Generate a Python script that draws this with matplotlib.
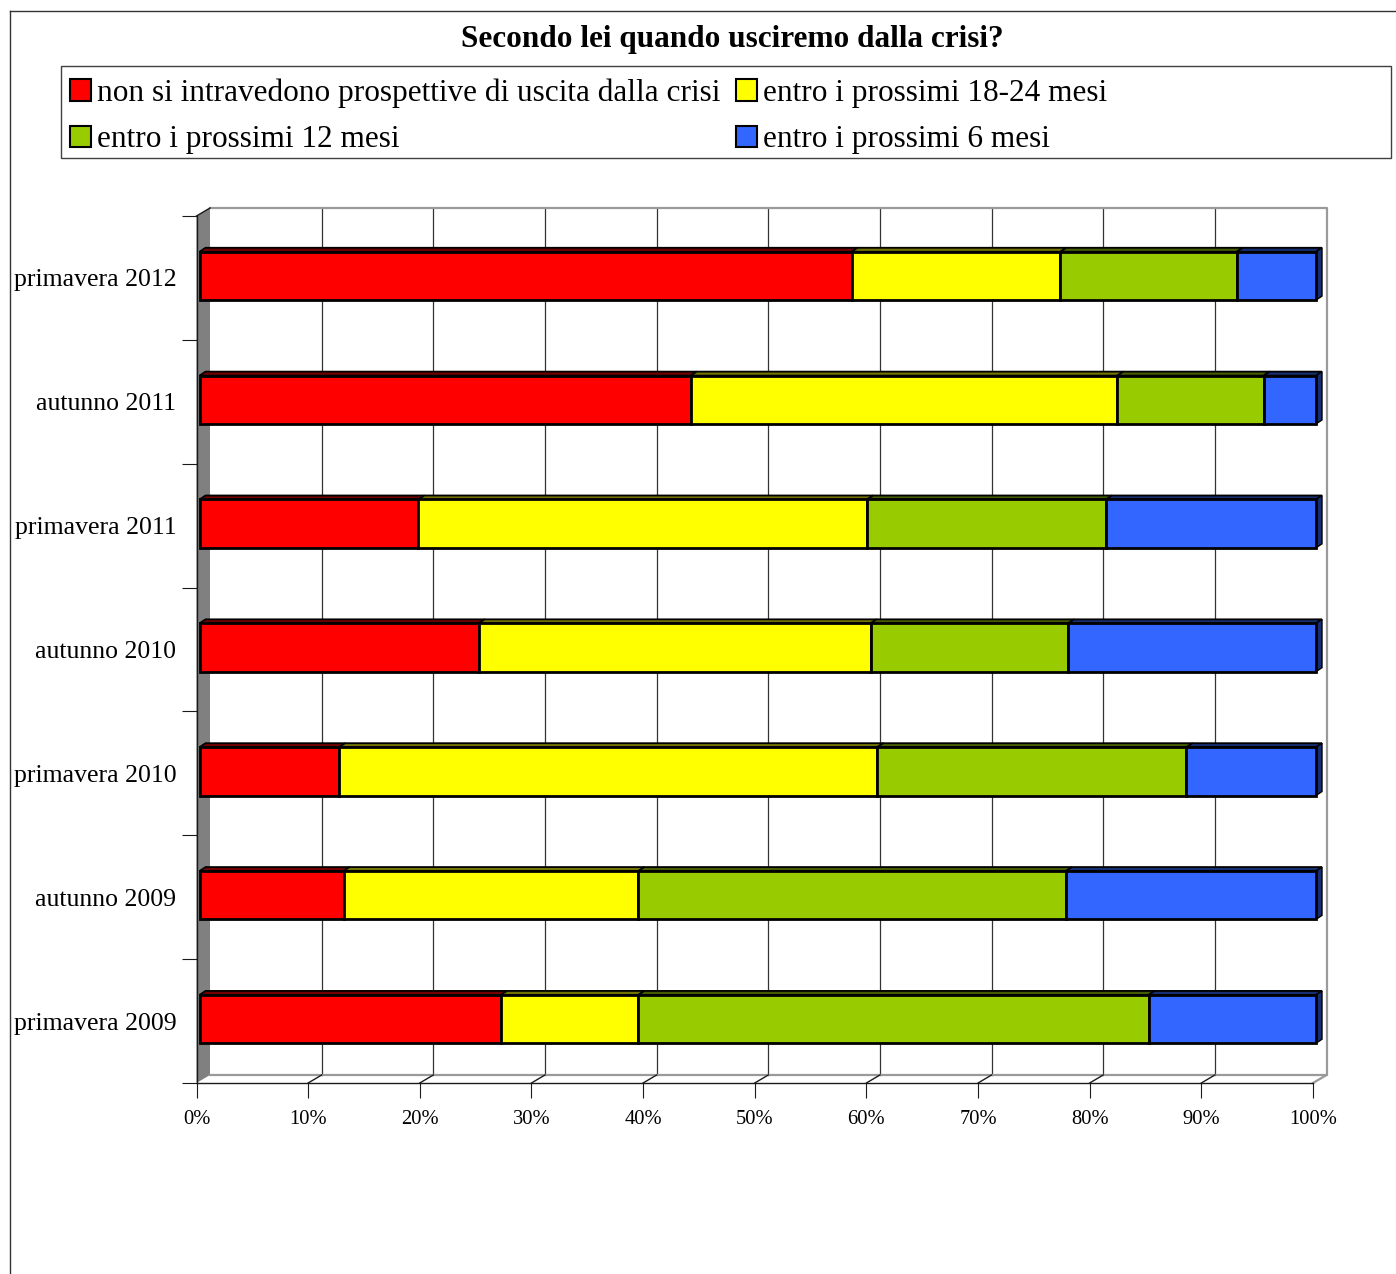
import matplotlib
matplotlib.use("Agg")
import matplotlib.pyplot as plt
from matplotlib.patches import Polygon, Rectangle, Patch
from matplotlib.lines import Line2D
from matplotlib.transforms import ScaledTranslation
from matplotlib.ticker import FixedLocator
import numpy as np

plt.rcParams["font.family"] = ["Liberation Serif", "DejaVu Serif"]

# ---- data (percent of respondents, stacked to 100%) ----
categories = ["primavera 2009", "autunno 2009", "primavera 2010", "autunno 2010",
              "primavera 2011", "autunno 2011", "primavera 2012"]
series_labels = ["non si intravedono prospettive di uscita dalla crisi",
                 "entro i prossimi 18-24 mesi",
                 "entro i prossimi 12 mesi",
                 "entro i prossimi 6 mesi"]
no_exit      = [27.0, 12.9, 12.5, 25.0, 19.6, 44.0, 58.4]
within_18_24 = [12.3, 26.4, 48.2, 35.1, 40.2, 38.2, 18.7]
within_12    = [45.7, 38.3, 27.7, 17.7, 21.4, 13.1, 15.8]
within_6     = [15.0, 22.4, 11.6, 22.2, 18.8, 4.7, 7.1]
series_colors = ["#FF0000", "#FFFF00", "#99CC00", "#3366FF"]
x_ticks = [0, 10, 20, 30, 40, 50, 60, 70, 80, 90, 100]
x_tick_labels = [f"{t}%" for t in x_ticks]
title = "Secondo lei quando usciremo dalla crisi?"

series = [no_exit, within_18_24, within_12, within_6]

W, H, DPI = 1396, 1274, 100
fig = plt.figure(figsize=(W / DPI, H / DPI), dpi=DPI)

# front plane of the pseudo-3D plot
x0, x1, ytop, ybot = 196.5, 1313.0, 216.0, 1083.0
ax = fig.add_axes([x0 / W, (H - ybot) / H, (x1 - x0) / W, (ybot - ytop) / H])
ncat = len(categories)
ax.set_xlim(0, 100)
ax.set_ylim(-0.5, ncat - 0.5)
ax.patch.set_visible(False)
for side in ("top", "right"):
    ax.spines[side].set_visible(False)
for side in ("left", "bottom"):
    ax.spines[side].set_color("#1a1a1a")
    ax.spines[side].set_linewidth(1.0)
    ax.spines[side].set_zorder(5)

sx = (x1 - x0) / 100.0          # pixels per percent
sy = (ybot - ytop) / ncat       # pixels per category


def shifted(dx, dy):
    """Data transform displaced by (dx, dy) pixels (dy up)."""
    return ax.transData + ScaledTranslation(dx / DPI, dy / DPI, fig.dpi_scale_trans)


# depth of the walls, in pixels
wall_dx, wall_dy = 13.5, 8.0
wdx, wdy = wall_dx / sx, wall_dy / sy
y_lo, y_hi = -0.5, ncat - 0.5

# left side wall
ax.add_patch(Polygon([(0, y_lo), (wdx, y_lo + wdy), (wdx, y_hi + wdy), (0, y_hi)],
                     closed=True, facecolor="#808080", edgecolor="none",
                     clip_on=False, zorder=1))
ax.plot([0, wdx], [y_hi, y_hi + wdy], color="#1a1a1a", lw=1.0, clip_on=False, zorder=2)

# back wall grid and frame
back = shifted(wall_dx, wall_dy)
for t in x_ticks[1:-1]:
    ax.plot([t, t], [y_lo, y_hi], transform=back, color="#333333", lw=0.9,
            clip_on=False, zorder=1)
ax.plot([0, 100, 100, 0], [y_hi, y_hi, y_lo, y_lo], transform=back,
        color="#9a9a9a", lw=1.6, clip_on=False, zorder=1)

# floor edges
for t in x_ticks[1:]:
    col = "#9a9a9a" if t == 100 else "#1a1a1a"
    ax.plot([t, t + wdx], [y_lo, y_lo + wdy], color=col, lw=1.0 if t < 100 else 1.6,
            clip_on=False, zorder=1)

# stacked bars with a shallow 3D top and end face
bar_dx, bar_dy = 3.0, 2.0
depth_dx, depth_dy = 6.0, 4.0
ddx, ddy = depth_dx / sx, depth_dy / sy
bar_h = 0.39
ypos = np.arange(ncat)
front = shifted(bar_dx, bar_dy)
lefts = np.zeros(ncat)
for vals, col in zip(series, series_colors):
    vals = np.asarray(vals, dtype=float)
    rgb = np.array(matplotlib.colors.to_rgb(col))
    dark = tuple(rgb * 0.45)
    for yi, l, w in zip(ypos, lefts, vals):
        top = yi + bar_h / 2
        ax.add_patch(Polygon([(l, top), (l + w, top), (l + w + ddx, top + ddy), (l + ddx, top + ddy)],
                             closed=True, facecolor=dark, edgecolor="black", lw=1.3,
                             transform=front, clip_on=False, zorder=3))
    ax.barh(ypos, vals, left=lefts, height=bar_h, color=col, edgecolor="black",
            linewidth=2.0, transform=front, clip_on=False, zorder=4)
    lefts = lefts + vals

# visible end face of the last segment
rgb_last = np.array(matplotlib.colors.to_rgb(series_colors[-1]))
for yi, r in zip(ypos, lefts):
    b, t = yi - bar_h / 2, yi + bar_h / 2
    ax.add_patch(Polygon([(r, b), (r, t), (r + ddx, t + ddy), (r + ddx, b + ddy)],
                         closed=True, facecolor=tuple(rgb_last * 0.45), edgecolor="black",
                         lw=1.0, transform=front, clip_on=False, zorder=3))

# ticks and labels
ax.set_xticks(x_ticks)
ax.set_xticklabels(x_tick_labels, fontsize=14.8)
ax.tick_params(axis="x", direction="out", length=10.8, width=0.8, color="#1a1a1a", pad=8.5)
ax.set_yticks(ypos)
ax.set_yticklabels(categories, fontsize=18.5)
ax.tick_params(axis="y", which="major", length=0, pad=14.5)
ax.yaxis.set_minor_locator(FixedLocator(np.arange(ncat + 1) - 0.5))
ax.tick_params(axis="y", which="minor", direction="out", length=10.8, width=0.8,
               color="#1a1a1a")

# title
fig.text(732 / W, 1 - 40 / H, title, ha="center", va="center", fontsize=22.5,
         fontweight="bold")

# legend
handles = [Patch(facecolor=c, edgecolor="black", linewidth=1.5) for c in series_colors]
order = [0, 2, 1, 3]
fig.legend([handles[i] for i in order], [series_labels[i] for i in order],
           ncol=2, loc="upper left", bbox_to_anchor=(70 / W, 1 - 78.5 / H),
           frameon=False, fontsize=22.5, handlelength=0.67, handleheight=0.67,
           handletextpad=0.19, columnspacing=0.5, labelspacing=0.55,
           borderpad=0, borderaxespad=0)
fig.add_artist(Rectangle((61 / W, 1 - 158 / H), (1391 - 61) / W, (158 - 66) / H,
                         transform=fig.transFigure, fill=False, edgecolor="#404040", lw=1.0))

# outer frame
fig.add_artist(Line2D([10 / W, 10 / W], [0, 1 - 11 / H], transform=fig.transFigure,
                      color="#333333", lw=1.0))
fig.add_artist(Line2D([10 / W, 1], [1 - 11 / H, 1 - 11 / H], transform=fig.transFigure,
                      color="#333333", lw=1.0))

fig.savefig("out.png", dpi=DPI)
